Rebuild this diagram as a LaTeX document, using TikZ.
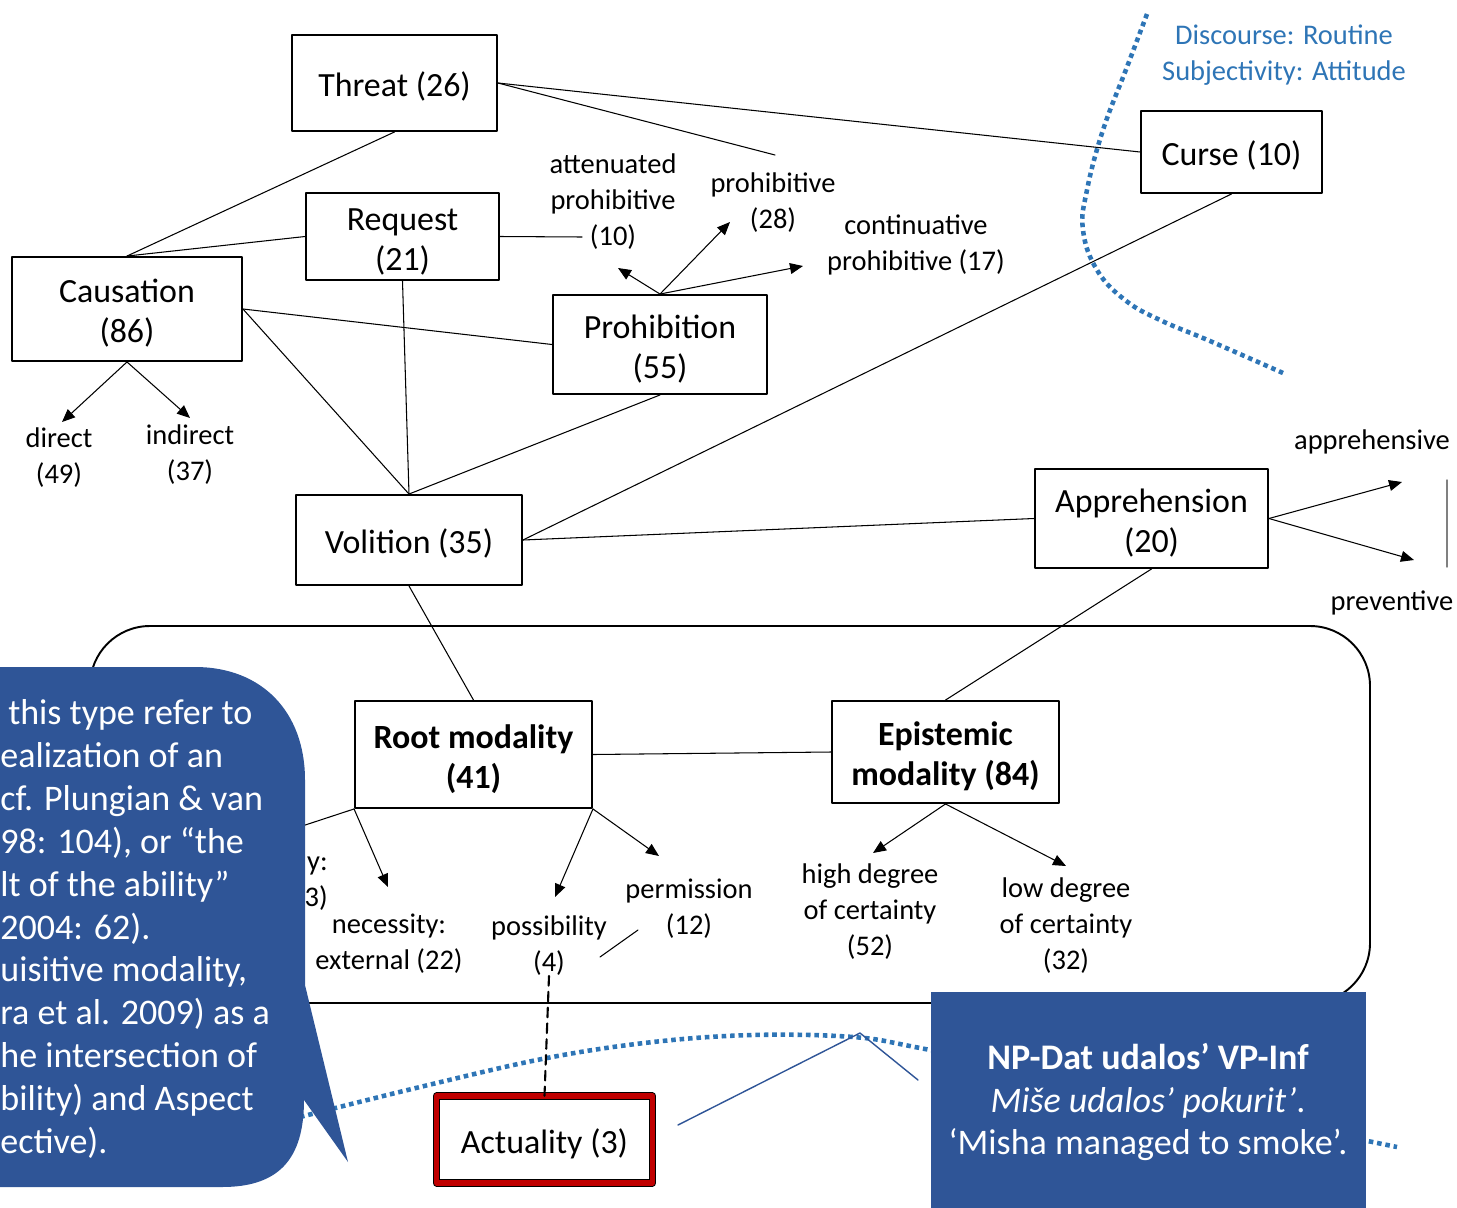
\documentclass[tikz,border=0pt]{standalone}
\usepackage{fontspec}
\setmainfont{Carlito}
\usetikzlibrary{arrows.meta}
\definecolor{calloutblue}{RGB}{47,85,151}
\definecolor{zoneblue}{RGB}{46,117,182}
\definecolor{actualred}{RGB}{192,0,0}
\newcommand\boxfont{\fontsize{19.3}{22.7}\selectfont}
\newcommand\labfont{\fontsize{16.2}{20.4}\selectfont}
\newcommand\notefont{\fontsize{20.5}{24.4}\selectfont}
\newcommand\boxstrut{\rule{0pt}{18.5pt}}
\newcommand\labstrut{\rule{0pt}{14.5pt}}

\begin{document}
\begin{tikzpicture}[x=0.02cm,y=-0.02cm,>={Triangle[length=7.4pt,width=6.2pt]},line cap=round,line join=round,
 catbox/.style={draw,line width=1.1pt,align=center,font=\boxfont,inner sep=0pt},
 lab/.style={align=center,font=\labfont,inner sep=0pt},
 link/.style={line width=0.6pt},
 subarrow/.style={->,line width=0.6pt},
 zone/.style={zoneblue,line width=2.6pt,dash pattern=on 2.6pt off 2.2pt,line cap=butt}]
 \useasboundingbox (0,0) rectangle (1457,1207);
 % Frame round the modal meanings.
 \draw[line width=1.1pt,rounded corners=1.2cm] (90,626) rectangle (1370,1003);
 % Zone borders.
 \draw[zone] plot[smooth,tension=0.7] coordinates {(1147,14) (1127,67) (1103,130) (1087,190) (1083,230) (1097,270) (1125,300) (1160,320) (1210,341) (1283,373)};
 \draw[zone] plot[smooth,tension=0.6] coordinates {(300,1117) (420,1087) (547,1058) (653,1042) (753,1035) (853,1037) (920,1048) (1100,1085) (1300,1127) (1397,1147)};
 \node[lab,text=zoneblue] (zonelabel) at (1284,52) {Discourse: Routine\labstrut\\Subjectivity: Attitude};
 % Categories.
 \node[catbox,minimum width=4.1cm,minimum height=1.92cm] (threat) at (394.5,83) {Threat (26)\boxstrut};
 \node[catbox,minimum width=3.62cm,minimum height=1.64cm] (curse) at (1231.5,152) {Curse (10)\boxstrut};
 \node[catbox,minimum width=3.86cm,minimum height=1.74cm] (request) at (402.5,236.5) {Request\boxstrut\\(21)};
 \node[catbox,minimum width=4.6cm,minimum height=2.08cm] (causation) at (127,309) {Causation\boxstrut\\(86)};
 \node[catbox,minimum width=4.28cm,minimum height=1.98cm] (prohibition) at (660,344.5) {Prohibition\boxstrut\\(55)};
 \node[catbox,minimum width=4.52cm,minimum height=1.8cm] (volition) at (409,540) {Volition (35)\boxstrut};
 \node[catbox,minimum width=4.66cm,minimum height=1.98cm] (apprehension) at (1151.5,518.5) {Apprehension\boxstrut\\(20)};
 \node[catbox,minimum width=4.74cm,minimum height=2.14cm,font=\boxfont\bfseries] (root) at (473.5,754.5) {Root modality\boxstrut\\(41)};
 \node[catbox,minimum width=4.54cm,minimum height=2.04cm,font=\boxfont\bfseries] (epistemic) at (945.5,752) {Epistemic\boxstrut\\modality (84)};
 \node[catbox,line width=0.6pt,double=actualred,double distance=3.2pt,minimum width=4.32cm,minimum height=1.73cm] (actuality) at (544.5,1139.5) {Actuality (3)\boxstrut};
 % Subtypes.
 \node[lab] (attenuated) at (613,199) {attenuated\labstrut\\prohibitive\\(10)};
 \node[lab] (prohibitive) at (773,200) {prohibitive\labstrut\\(28)};
 \node[lab] (continuative) at (916,242) {continuative\labstrut\\prohibitive (17)};
 \node[lab] (direct) at (59,455) {direct\labstrut\\(49)};
 \node[lab] (indirect) at (190,452) {indirect\labstrut\\(37)};
 \node[lab] (apprehensive) at (1372,439) {apprehensive\labstrut};
 \node[lab] (preventive) at (1392,600) {preventive\labstrut};
 \node[lab,align=right,anchor=east] (internal) at (328,878) {y:\labstrut\\(3)};
 \node[lab] (external) at (389,941) {necessity:\labstrut\\external (22)};
 \node[lab] (possibility) at (549,943) {possibility\labstrut\\(4)};
 \node[lab] (permission) at (689,906) {permission\labstrut\\(12)};
 \node[lab] (high) at (870,909) {high degree\labstrut\\of certainty\\(52)};
 \node[lab] (low) at (1066,923) {low degree\labstrut\\of certainty\\(32)};
 \coordinate (p28top) at (775,155);
 \coordinate (attend) at (582,237);
 \coordinate (tipatt) at (618,268);
 \coordinate (tip28) at (730,222);
 \coordinate (tipcont) at (803,266);
 \coordinate (tipdir) at (62,422);
 \coordinate (tipind) at (190,418);
 \coordinate (tipappr) at (1402,482);
 \coordinate (tipprev) at (1414,560);
 \coordinate (tipint) at (290,830);
 \coordinate (tipext) at (388,887);
 \coordinate (tipposs) at (555,897);
 \coordinate (tipperm) at (659,856);
 \coordinate (tiphigh) at (873,853);
 \coordinate (tiplow) at (1066,866);
 % Links between categories.
 \draw[link] (threat.east) -- (curse.west);
 \draw[link] (threat.east) -- (p28top);
 \draw[link] (threat.south) -- (causation.north);
 \draw[link] (request.west) -- (causation.north);
 \draw[link] (request.east) -- (attend);
 \draw[link] (request.south) -- (volition.north);
 \draw[link] (causation.east) -- (prohibition.west);
 \draw[link] (causation.east) -- (volition.north);
 \draw[link] (prohibition.south) -- (volition.north);
 \draw[link] (curse.south) -- (volition.east);
 \draw[link] (volition.east) -- (apprehension.west);
 \draw[link] (volition.south) -- (root.north);
 \draw[link] (apprehension.south) -- (epistemic.north);
 \draw[link] (root.east) -- (epistemic.west);
 \draw[link] (root.south west) -- (tipint);
 \draw[link] (600,957) -- (638,930);
 \draw[gray,line width=0.8pt] (1447,480) -- (1447,567);
 % Arrows to the subtypes.
 \draw[subarrow] (prohibition.north) -- (tipatt);
 \draw[subarrow] (prohibition.north) -- (tip28);
 \draw[subarrow] (prohibition.north) -- (tipcont);
 \draw[subarrow] (causation.south) -- (tipdir);
 \draw[subarrow] (causation.south) -- (tipind);
 \draw[subarrow] (apprehension.east) -- (tipappr);
 \draw[subarrow] (apprehension.east) -- (tipprev);
 \draw[subarrow] (root.south west) -- (tipext);
 \draw[subarrow] (root.south east) -- (tipposs);
 \draw[subarrow] (root.south east) -- (tipperm);
 \draw[subarrow] (epistemic.south) -- (tiphigh);
 \draw[subarrow] (epistemic.south) -- (tiplow);
 \draw[line width=1.2pt,dash pattern=on 5.5pt off 3.5pt] (possibility.south) -- (actuality.north);
 % Callouts.
 \fill[calloutblue] (-10,667) -- (195,667) .. controls (262,667) and (305,712) .. (305,780) -- (305,985) -- (348,1162) -- (304,1100) .. controls (304,1160) and (278,1187) .. (222,1187) -- (-10,1187) -- cycle;
 \node[font=\notefont,text=white,align=left,inner sep=0pt,anchor=west] (note) at (0,929) {\hspace*{4.5pt}this type refer to\\ealization of an\\cf. Plungian \& van\\98: 104), or “the\\lt of the ability”\\2004: 62).\\uisitive modality,\\ra et al. 2009) as a\\he intersection of\\bility) and Aspect\\ective).};
 \fill[calloutblue] (931,992) rectangle (1366,1210);
 \draw[calloutblue,line width=0.8pt] (678,1125) -- (860,1033) -- (918,1080);
 \node[font=\notefont,text=white,align=center,inner sep=0pt] (example) at (1148,1102) {\textbf{NP-Dat udalos’ VP-Inf}\\\textit{Miše udalos’ pokurit’}.\\‘Misha managed to smoke’.};
\end{tikzpicture}
\end{document}
